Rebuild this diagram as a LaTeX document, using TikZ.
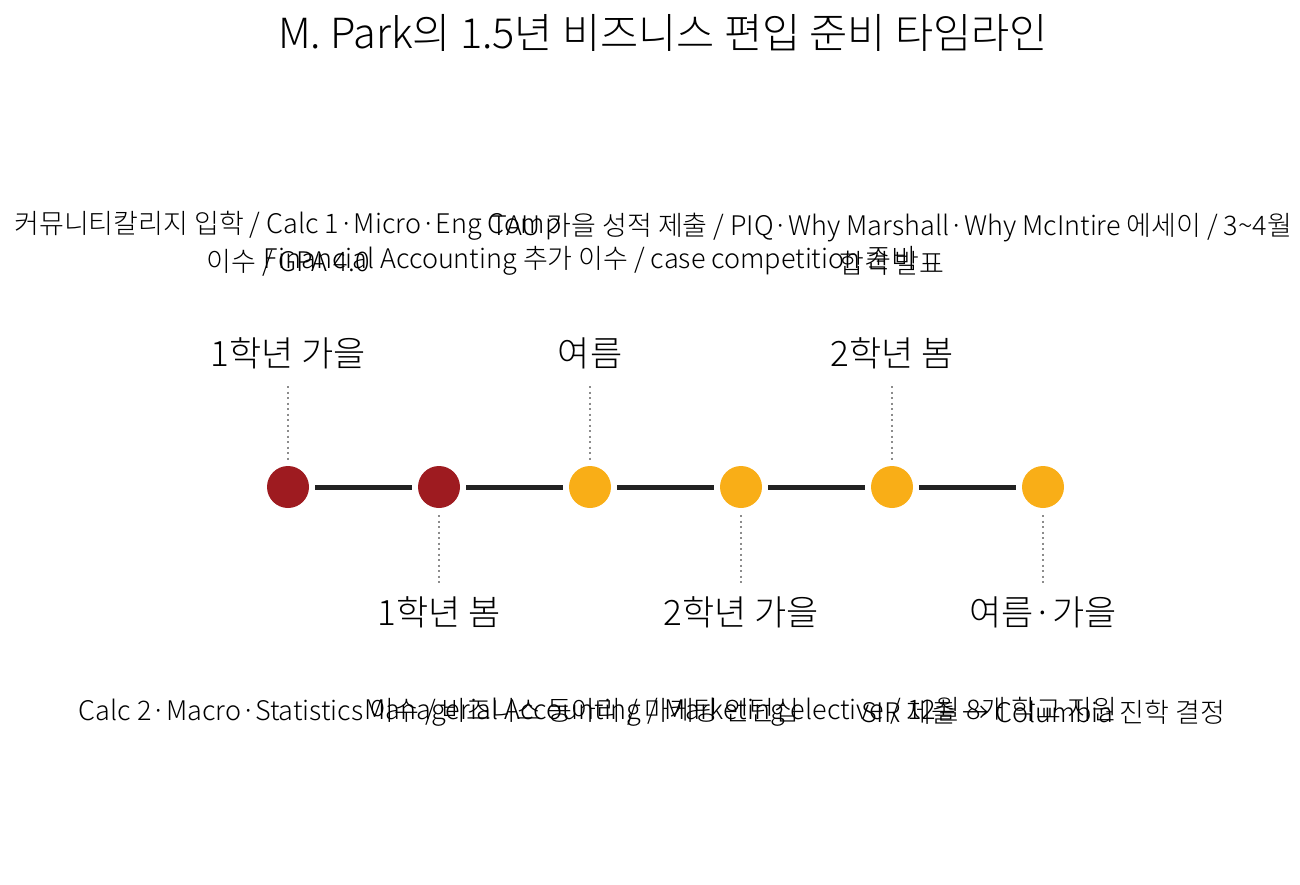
\documentclass[tikz,border=0pt]{standalone}
\usepackage{fontspec}
\setmainfont{Noto Sans CJK KR}[UprightFont = * Light]
\usetikzlibrary{positioning}
\definecolor{termred}{HTML}{9E1B20}
\definecolor{termamber}{HTML}{F9AE17}
\definecolor{barblack}{HTML}{222222}

\begin{document}
\begin{tikzpicture} [x=1pt, y=-1pt, node distance = 151pt, on grid,
    milestone/.style = {circle, fill=#1, minimum size=42pt, inner sep=0pt},
    season/.style = {font=\fontsize{35}{40}\selectfont},
    note/.style = {font=\fontsize{27}{38}\selectfont, align=center, inner sep=0pt},
    bar/.style = {draw=barblack, line width=5pt, shorten <=6pt, shorten >=6pt},
    leader/.style = {draw=gray!90, line width=2.5pt, dash pattern=on 2pt off 3.5pt}]
        \useasboundingbox (0,0) rectangle (1300,885);
        \node (title) at (663,33) {\fontsize{41.5}{48}\selectfont M. Park의 1.5년 비즈니스 편입 준비 타임라인};

        \node (t1) [milestone=termred] at (288,487) {};
        \node (t2) [milestone=termred, right = of t1] {};
        \node (t3) [milestone=termamber, right = of t2] {};
        \node (t4) [milestone=termamber, right = of t3] {};
        \node (t5) [milestone=termamber, right = of t4] {};
        \node (t6) [milestone=termamber, right = of t5] {};

        \node (l1) [season, above = 134pt of t1] {1학년 가을};
        \node (l2) [season, below = 125pt of t2] {1학년 봄};
        \node (l3) [season, above = 134pt of t3] {여름};
        \node (l4) [season, below = 125pt of t4] {2학년 가을};
        \node (l5) [season, above = 134pt of t5] {2학년 봄};
        \node (l6) [season, below = 125pt of t6] {여름·가을};

        \node (n1) [note, anchor=south] at (t1 |- 0,276) {커뮤니티칼리지 입학 / Calc 1·Micro·Eng Comp\\이수 / GPA 4.0};
        \node (n3) [note, anchor=south] at (t3 |- 0,276) {Financial Accounting 추가 이수 / case competition 준비};
        \node (n5) [note, anchor=south] at (t5 |- 0,276) {TAU 가을 성적 제출 / PIQ·Why Marshall·Why McIntire 에세이 / 3\textasciitilde 4월\\합격 발표};
        \node (n2) [note] at (t2 |- 0,712) {Calc 2·Macro·Statistics 이수 / 비즈니스 동아리 / 마케팅 인턴십};
        \node (n4) [note] at (t4 |- 0,712) {Managerial Accounting / Marketing elective / 12월 8개 학교 지원};
        \node (n6) [note] at (t6 |- 0,712) {SIR 제출 → Columbia 진학 결정};

        \path [bar] (t1) -- (t2);
        \path [bar] (t2) -- (t3);
        \path [bar] (t3) -- (t4);
        \path [bar] (t4) -- (t5);
        \path [bar] (t5) -- (t6);

        \path [leader, shorten <=14pt, shorten >=6pt] (l1) -- (t1);
        \path [leader, shorten <=14pt, shorten >=6pt] (l3) -- (t3);
        \path [leader, shorten <=14pt, shorten >=6pt] (l5) -- (t5);
        \path [leader, shorten <=7pt, shorten >=7pt] (t2) -- (l2);
        \path [leader, shorten <=7pt, shorten >=7pt] (t4) -- (l4);
        \path [leader, shorten <=7pt, shorten >=7pt] (t6) -- (l6);
\end{tikzpicture}
\end{document}
